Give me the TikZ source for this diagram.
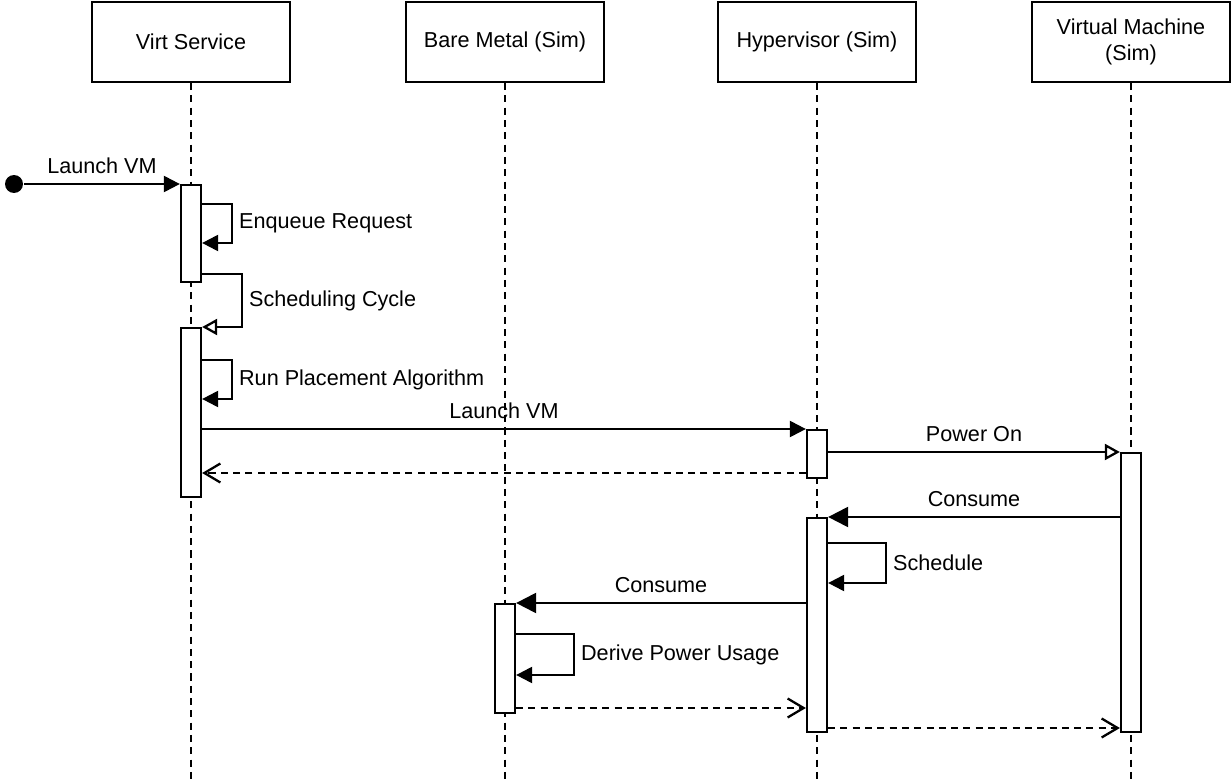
\documentclass[tikz,border=0pt]{standalone}
\usepackage{fontspec}
\setmainfont{Liberation Sans}
\usetikzlibrary{arrows.meta}

\begin{document}
\begin{tikzpicture}[x=0.02cm, y=-0.02cm, line width=1.3pt,
    font=\fontsize{12.3}{14.5}\selectfont,
    head/.style={draw, minimum width=3.96cm, minimum height=1.6cm, align=center, inner sep=0pt},
    act/.style={draw, fill=white, minimum width=0.4cm, inner sep=0pt, anchor=north},
    life/.style={dash pattern=on 4pt off 3pt},
    msg/.style={-{Triangle[length=0.32cm, width=0.32cm]}},
    bigmsg/.style={-{Triangle[length=0.4cm, width=0.4cm]}},
    async/.style={-{Triangle[open, length=0.3cm, width=0.32cm, fill=white]}},
    reply/.style={dash pattern=on 4pt off 3pt, -{Straight Barb[length=0.32cm, width=0.38cm]}}]
        \useasboundingbox (0,0) rectangle (1231,784);
        % participants
        \node[head] (vs) at (191,42)  {Virt Service};
        \node[head] (bm) at (505,42)  {Bare Metal (Sim)};
        \node[head] (hv) at (817,42)  {Hypervisor (Sim)};
        \node[head] (vm) at (1131,42) {Virtual Machine\\(Sim)};
        \foreach \p in {vs, bm, hv, vm}
          \draw[life] (\p.south) -- (\p.south |- 0,784);
        % activations
        \node[act, minimum height=1.94cm] (vs1) at (191,184)  {};
        \node[act, minimum height=3.38cm] (vs2) at (191,327)  {};
        \node[act, minimum height=0.96cm] (hv1) at (817,429)  {};
        \node[act, minimum height=4.28cm] (hv2) at (817,517)  {};
        \node[act, minimum height=5.58cm] (vm1) at (1131,452) {};
        \node[act, minimum height=2.18cm] (bm1) at (505,603)  {};
        % messages
        \node[circle, fill, inner sep=0pt, minimum size=0.36cm] (src) at (14,184) {};
        \draw[msg] (src) -- node[above=2pt] {Launch VM} (vs1.north west);
        \draw[msg] (vs1.east |- 0,204) -- ++(30,0) |- node[pos=0.25, right] {Enqueue Request} (vs1.east |- 0,243);
        \draw[async] (vs1.east |- 0,274) -- ++(40,0) |- node[pos=0.25, right] {Scheduling Cycle} (vs2.north east);
        \draw[msg] (vs2.east |- 0,360) -- ++(30,0) |- node[pos=0.25, right] {Run Placement Algorithm} (vs2.east |- 0,399);
        \draw[msg] (vs2.east |- 0,429) -- node[above=2pt] {Launch VM} (hv1.north west);
        \draw[reply] (hv1.west |- 0,473) -- (vs2.east |- 0,473);
        \draw[async] (hv1.east |- 0,452) -- node[above=2pt] {Power On} (vm1.north west);
        \draw[bigmsg] (vm1.west |- hv2.north) -- node[above=2pt] {Consume} (hv2.north east);
        \draw[msg] (hv2.east |- 0,543) -- ++(58,0) |- node[pos=0.25, right] {Schedule} (hv2.east |- 0,583);
        \draw[bigmsg] (hv2.west |- 0,603) -- node[above=2pt] {Consume} (bm1.north east);
        \draw[msg] (bm1.east |- 0,634) -- ++(58,0) |- node[pos=0.25, right] {Derive Power Usage} (bm1.east |- 0,675);
        \draw[reply] (bm1.east |- 0,708) -- (hv2.west |- 0,708);
        \draw[reply] (hv2.east |- 0,728) -- (vm1.west |- 0,728);
      \end{tikzpicture}
\end{document}
